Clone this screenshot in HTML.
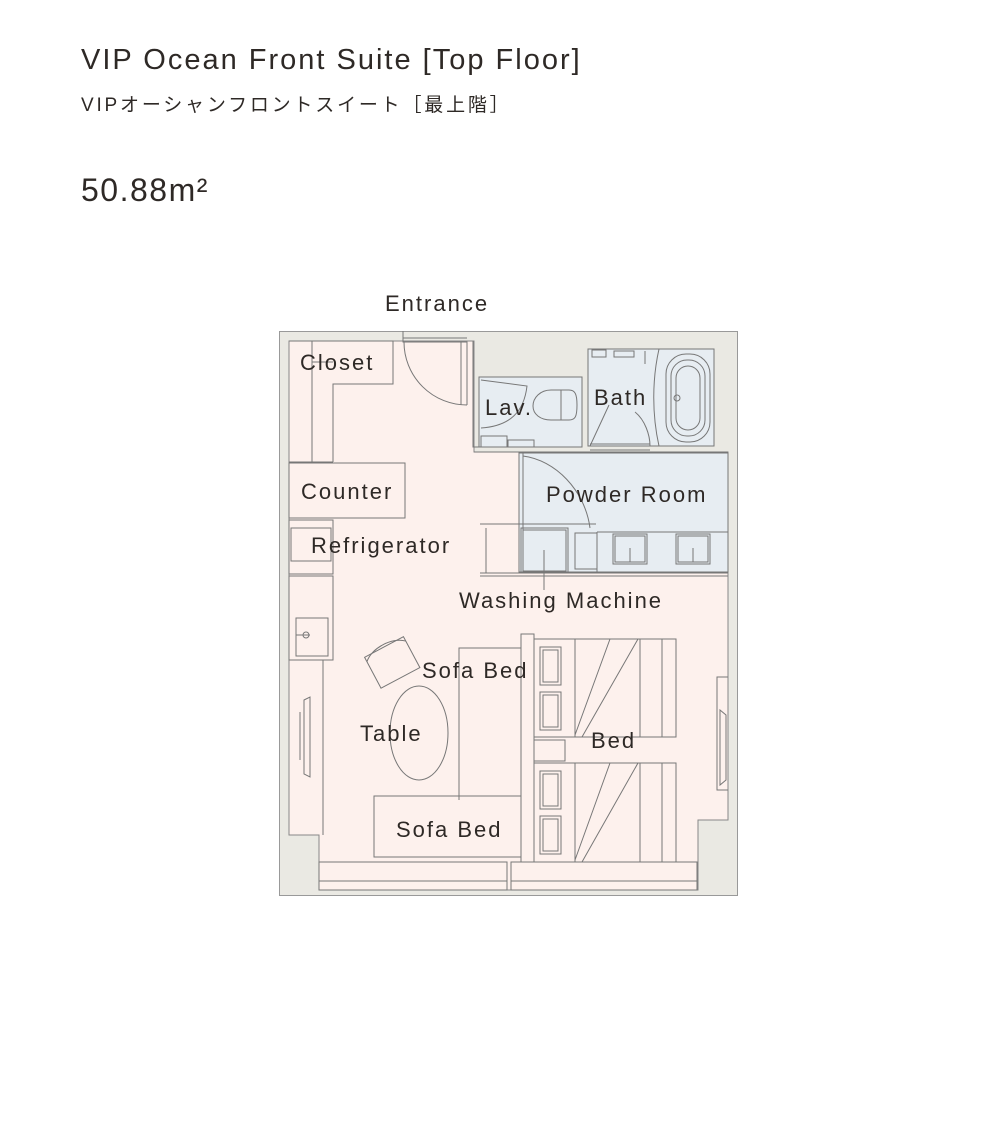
<!DOCTYPE html>
<html><head><meta charset="utf-8"><style>
body{margin:0;width:1000px;height:1124px;background:#fff;overflow:hidden}
svg{position:absolute;left:0;top:0}
text{font-family:"Liberation Sans","Noto Sans CJK JP",sans-serif;fill:#2e2926}
</style></head><body>
<svg width="1000" height="1124" viewBox="0 0 1000 1124">
<text x="81" y="69" font-size="29" letter-spacing="2">VIP Ocean Front Suite [Top Floor]</text>
<text x="81" y="111" font-size="19" letter-spacing="2.8">VIPオーシャンフロントスイート［最上階］</text>
<text x="81" y="201" font-size="32" letter-spacing="1.5">50.88m²</text>
<text x="385" y="311" font-size="22" letter-spacing="2">Entrance</text>
<g stroke="#777" stroke-width="1" fill="none">
<rect x="279.5" y="331.5" width="458" height="564" fill="#eae9e3" stroke="#999"/>
<path d="M289 341 H474 V452 H728 V820 H698 V890 H319 V835 H289 Z" fill="#fdf1ed" stroke="#888"/>
<rect x="479" y="377" width="103" height="70" fill="#e7edf2"/>
<rect x="588" y="349" width="126" height="97" fill="#e7edf2"/>
<rect x="519" y="453" width="209" height="119" fill="#e7edf2"/>
<line x1="474" y1="452" x2="728" y2="452"/>
<line x1="519" y1="453" x2="519" y2="530"/><line x1="523" y1="453" x2="523" y2="530"/>
<path d="M289 341 H393 V384 H333 V462 M312 384 V462"/>
<path d="M312 384 V341 M289 462 H333"/>
<line x1="312" y1="362" x2="333" y2="362"/>
<path d="M403 331 V342 H467 V405 M403 338 H467 M461 342 V405"/>
<path d="M404 342 A63 63 0 0 0 467 405"/>
<rect x="289" y="463" width="116" height="55"/>
<rect x="289" y="520" width="44" height="54"/><rect x="291" y="528" width="40" height="33"/>
<line x1="333" y1="520" x2="333" y2="574"/>
<rect x="289" y="576" width="44" height="84"/><rect x="296" y="618" width="32" height="38"/>
<path d="M296 635 H310"/><circle cx="306" cy="635" r="3"/>
<path d="M289 660 H333 M323 660 V835 M289 835"/>
<path d="M304 700 L310 697 V777 L304 774 Z M300 712 V760"/>
<path d="M473 341 V447 H582 M479 447 V377 M473 447 H479"/>
<path d="M481 380 L527 386 C524 412 510 426 481 428"/>
<rect x="481" y="436" width="26" height="11"/><rect x="508" y="440" width="26" height="7"/>
<path d="M569 390 H551 C540 390 533 398 533 406 C533 414 540 420 551 420 H569 C575 420 577 417 577 405 C577 394 575 390 569 390 Z M561 390 V420"/>
<path d="M590 446 L609 405 M635 412 C645 420 650 435 650 446 M590 444 H650 M590 450 H650"/>
<path d="M659 349 C652 380 652 415 659 446"/>
<rect x="666" y="354" width="44" height="88" rx="20"/><rect x="671" y="360" width="34" height="76" rx="16"/><rect x="676" y="366" width="24" height="64" rx="12"/>
<circle cx="677" cy="398" r="3"/>
<rect x="592" y="350" width="14" height="7"/><rect x="614" y="351" width="20" height="6"/><path d="M645 351 V364"/>
<path d="M523 456 C555 460 585 490 590 528"/>
<path d="M480 524 H596 M480 573 H728 M480 576 H728 M486 528 V573 M519 528 V573"/>
<rect x="521" y="528" width="47" height="45"/><rect x="523" y="530" width="43" height="41"/>
<line x1="544" y1="550" x2="544" y2="590"/>
<rect x="575" y="533" width="22" height="36"/>
<path d="M597 532 H728 M597 532 V572"/>
<rect x="613" y="534" width="34" height="30"/><rect x="615" y="536" width="30" height="26"/><path d="M630 548 V562"/>
<rect x="676" y="534" width="34" height="30"/><rect x="678" y="536" width="30" height="26"/><path d="M693 548 V562"/>
<g transform="rotate(-28 392 662)"><path d="M370 645 H414 V680 H370 Z"/><path d="M370 650 C380 640 404 640 414 650"/></g>
<ellipse cx="419" cy="733" rx="29" ry="47"/>
<path d="M459 800 V648 H521"/>
<rect x="374" y="796" width="147" height="61"/>
<rect x="521" y="634" width="13" height="228"/>
<rect x="534" y="639" width="142" height="98"/><rect x="534" y="763" width="142" height="99"/>
<path d="M575 639 V737 M640 639 V737 M662 639 V737 M575 763 V862 M640 763 V862 M662 763 V862"/>
<path d="M575 735 L610 639 M582 737 L638 639 M575 860 L610 763 M582 862 L638 763"/>
<rect x="540" y="647" width="21" height="38"/><rect x="543" y="650" width="15" height="32"/>
<rect x="540" y="692" width="21" height="38"/><rect x="543" y="695" width="15" height="32"/>
<rect x="540" y="771" width="21" height="38"/><rect x="543" y="774" width="15" height="32"/>
<rect x="540" y="816" width="21" height="38"/><rect x="543" y="819" width="15" height="32"/>
<rect x="534" y="740" width="31" height="21"/>
<path d="M728 677 H717 V790 H728 M720 710 L726 715 V780 L720 785 Z"/>
<rect x="319" y="862" width="188" height="28"/><line x1="319" y1="881" x2="507" y2="881"/>
<rect x="511" y="862" width="186" height="28"/><line x1="511" y1="881" x2="697" y2="881"/>
</g>
<g font-size="22" letter-spacing="2">
<text x="300" y="370">Closet</text>
<text x="485" y="415">Lav.</text>
<text x="594" y="405">Bath</text>
<text x="301" y="499">Counter</text>
<text x="546" y="502">Powder Room</text>
<text x="311" y="553">Refrigerator</text>
<text x="459" y="608">Washing Machine</text>
<text x="422" y="678">Sofa Bed</text>
<text x="360" y="741">Table</text>
<text x="591" y="748">Bed</text>
<text x="396" y="837">Sofa Bed</text>
</g>
</svg>
</body></html>
